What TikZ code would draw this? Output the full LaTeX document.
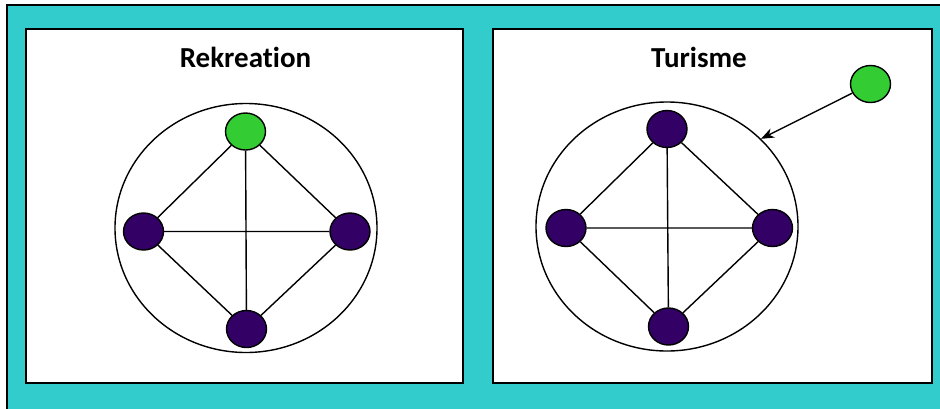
\documentclass[tikz,border=0pt]{standalone}
\usepackage{fontspec}
\setmainfont{Carlito}[Ligatures=NoCommon]
\usetikzlibrary{shapes.geometric,arrows.meta}
\definecolor{teal1}{HTML}{33CCCC}
\definecolor{purp}{HTML}{330066}
\definecolor{grn}{HTML}{33CC33}
\begin{document}
\begin{tikzpicture}[x=1pt,y=-1pt,
  panel/.style={draw=black,fill=white,line width=2pt},
  big/.style={draw=black,ellipse,line width=1.4pt,minimum width=262pt,minimum height=249pt,inner sep=0pt},
  vtx/.style={draw=black,ellipse,line width=1.4pt,minimum width=40pt,minimum height=37pt,inner sep=0pt},
  pv/.style={vtx,fill=purp},
  gv/.style={vtx,fill=grn},
  edge/.style={line width=1.4pt},
  ttl/.style={font=\bfseries\fontsize{29}{33}\selectfont,inner sep=0pt}]
\useasboundingbox (0,0) rectangle (940,408);
\clip (0,0) rectangle (940,408);
\draw[fill=teal1,line width=2pt] (7,5) rectangle (960,430);
\draw[panel] (26,29) rectangle (463,383);
\draw[panel] (493,29) rectangle (932,383);
\node[ttl,anchor=base] (t1) at (245.5,67) {Rekreation};
\node[ttl,anchor=base] (t2) at (699,67) {Turisme};
% left
\node[big] (bigL) at (246,228) {};
\node[gv] (la) at (245.5,131.5) {};
\node[pv] (lb) at (143.5,231.5) {};
\node[pv] (lc) at (350,231.5) {};
\node[pv] (ld) at (246.5,329) {};
\draw[edge] (la) -- (lb) (la) -- (lc) (la) -- (ld) (lb) -- (lc) (lb) -- (ld) (lc) -- (ld);
% right
\node[big] (bigR) at (667,226.5) {};
\node[pv] (ra) at (667,129) {};
\node[pv] (rb) at (566,228) {};
\node[pv] (rc) at (772.5,228) {};
\node[pv] (rd) at (668.5,326.5) {};
\draw[edge] (ra) -- (rb) (ra) -- (rc) (ra) -- (rd) (rb) -- (rc) (rb) -- (rd) (rc) -- (rd);
\node[gv] (rg) at (870.5,84) {};
\draw[edge,-{Stealth[length=13pt,width=10pt,inset=4pt]}] (rg) -- (bigR.43);
\end{tikzpicture}
\end{document}
